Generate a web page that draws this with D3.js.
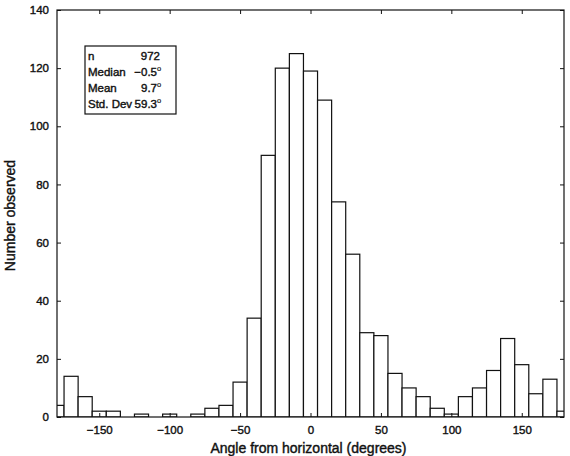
<!DOCTYPE html>
<html>
<head>
<meta charset="utf-8">
<script src="https://cdn.jsdelivr.net/npm/d3@7"></script>
<style>
  body { margin: 0; background: #fff; }
  text { font-family: "Liberation Sans", Arial, sans-serif; fill: #111; stroke: #111; stroke-width: 0.4px; }
</style>
</head>
<body>
<script>
// bin centres (degrees) and counts
const binCenters = [-180, -170, -160, -150, -140, -130, -120, -110, -100, -90, -80, -70, -60, -50, -40, -30, -20, -10,
  0, 10, 20, 30, 40, 50, 60, 70, 80, 90, 100, 110, 120, 130, 140, 150, 160, 170, 180];
const counts = [4, 14, 7, 2, 2, 0, 1, 0, 1, 0, 1, 3, 4, 12, 34, 90, 120, 125,
  119, 109, 74, 56, 29, 28, 15, 10, 7, 3, 1, 7, 10, 16, 27, 18, 8, 13, 2];
const xTicks = [-150, -100, -50, 0, 50, 100, 150];
const yTicks = [0, 20, 40, 60, 80, 100, 120, 140];
const statLabels = ["n", "Median", "Mean", "Std. Dev"];
const statValues = ["972", "\u22120.5", "9.7", "59.3"];
const statDegree = [false, true, true, true];

const dims = { width: 570, height: 456 };
const plot = { left: 57, right: 564, top: 10, bottom: 417 };

const svg = d3.select("body").append("svg")
    .attr("width", dims.width)
    .attr("height", dims.height);

const x = d3.scaleLinear().domain([-180, 180]).range([plot.left, plot.right]);
const y = d3.scaleLinear().domain([0, 140]).range([plot.bottom, plot.top]);

// clip to the axes box
svg.append("clipPath").attr("id", "clip")
  .append("rect")
    .attr("x", plot.left).attr("y", plot.top)
    .attr("width", plot.right - plot.left).attr("height", plot.bottom - plot.top);

const data = binCenters.map((c, i) => ({ c: c, n: counts[i] }));

svg.append("g").attr("clip-path", "url(#clip)")
  .selectAll("rect").data(data).enter()
  .append("rect")
    .attr("x", d => x(d.c - 5))
    .attr("y", d => y(d.n))
    .attr("width", d => x(d.c + 5) - x(d.c - 5))
    .attr("height", d => y(0) - y(d.n))
    .attr("fill", "#fff")
    .attr("stroke", "#111")
    .attr("stroke-width", 1.2);

// axes, ticks pointing inward
const styleAxis = g => {
  g.select(".domain").remove();
  g.selectAll(".tick line").attr("stroke", "#111");
  g.selectAll("text").style("font-size", "11.5px").attr("fill", "#111");
};

svg.append("g").attr("transform", `translate(0,${plot.bottom})`)
  .call(d3.axisBottom(x).tickValues(xTicks).tickSize(-4).tickPadding(9))
  .call(styleAxis);
svg.append("g").attr("transform", `translate(0,${plot.top})`)
  .call(d3.axisTop(x).tickValues(xTicks).tickSize(-4).tickFormat(""))
  .call(styleAxis);
svg.append("g").attr("transform", `translate(${plot.left},0)`)
  .call(d3.axisLeft(y).tickValues(yTicks).tickSize(-4).tickPadding(8))
  .call(styleAxis);
svg.append("g").attr("transform", `translate(${plot.right},0)`)
  .call(d3.axisRight(y).tickValues(yTicks).tickSize(-4).tickFormat(""))
  .call(styleAxis);

// frame
svg.append("rect")
    .attr("x", plot.left).attr("y", plot.top)
    .attr("width", plot.right - plot.left).attr("height", plot.bottom - plot.top)
    .attr("fill", "none").attr("stroke", "#111").attr("stroke-width", 1.2);

// stats box
const box = svg.append("g");
box.append("rect")
    .attr("x", 85).attr("y", 46).attr("width", 91).attr("height", 68)
    .attr("fill", "#fff").attr("stroke", "#111").attr("stroke-width", 1.2);
statLabels.forEach((s, i) => {
  const by = 59.5 + i * 16.3;
  box.append("text").attr("x", 88).attr("y", by)
    .style("font-size", "11.5px").text(s);
  box.append("text").attr("x", statDegree[i] ? 157 : 160).attr("y", by).attr("text-anchor", "end")
    .style("font-size", "11.5px").text(statValues[i]);
  if (statDegree[i]) {
    box.append("text").attr("x", 157).attr("y", by - 5)
      .style("font-size", "7.5px").style("stroke-width", "0.2px").text("o");
  }
});

// axis titles
svg.append("text")
    .attr("x", x(0) - 2).attr("y", 453)
    .attr("text-anchor", "middle")
    .style("font-size", "14px")
    .text("Angle from horizontal (degrees)");
svg.append("text")
    .attr("transform", `translate(15,${(plot.top + plot.bottom) / 2 + 2}) rotate(-90)`)
    .attr("text-anchor", "middle")
    .style("font-size", "14px")
    .text("Number observed");
</script>
</body>
</html>
